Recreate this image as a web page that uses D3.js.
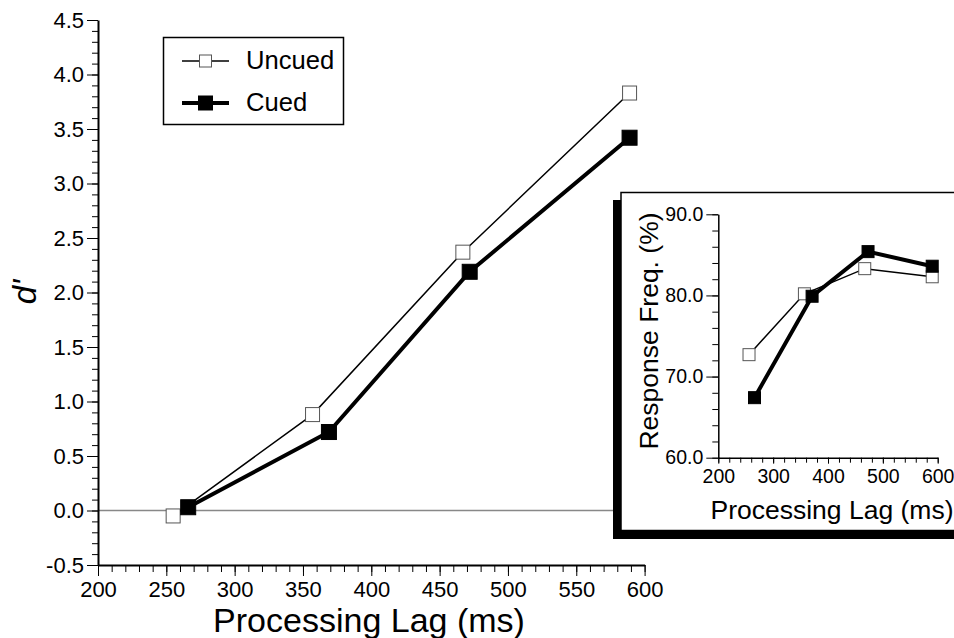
<!DOCTYPE html>
<html><head><meta charset="utf-8">
<script src="https://cdn.jsdelivr.net/npm/d3@7"></script>
<style>
html,body{margin:0;padding:0;background:#fff;}
svg{display:block;font-family:"Liberation Sans",Arial,Helvetica,sans-serif;}
</style></head>
<body>
<svg id="chart" width="954" height="638"></svg>
<script>
// ---- data ----
const seriesNames = ["Uncued", "Cued"];
const mainLagUncued = [255, 357, 467, 589];
const mainDUncued = [-0.05, 0.88, 2.37, 3.83];
const mainLagCued = [266, 369, 472, 589];
const mainDCued = [0.03, 0.72, 2.19, 3.42];
const insetLagUncued = [256, 357, 467, 590];
const insetFreqUncued = [72.7, 80.2, 83.3, 82.3];
const insetLagCued = [266, 371, 473, 590];
const insetFreqCued = [67.4, 79.9, 85.4, 83.6];
const mainXTicks = [200, 250, 300, 350, 400, 450, 500, 550, 600];
const mainYTicks = [-0.5, 0.0, 0.5, 1.0, 1.5, 2.0, 2.5, 3.0, 3.5, 4.0, 4.5];
const insetXTicks = [200, 300, 400, 500, 600];
const insetYTicks = [60, 70, 80, 90];
const xTitle = "Processing Lag (ms)";
const yTitle = "d'";
const insetYTitle = "Response Freq. (%)";

const svg = d3.select("#chart");
const font = '"Liberation Sans",Arial,Helvetica,sans-serif';

// ---- main scales ----
const x = d3.scaleLinear().domain([200, 600]).range([98, 644.6]);
const y = d3.scaleLinear().domain([-0.5, 4.5]).range([565, 20]);

function styleAxis(g, w) {
  g.selectAll("path.domain").attr("stroke", "#000").attr("stroke-width", w);
  g.selectAll(".tick line").attr("stroke", "#000").attr("stroke-width", 1);
}

// zero line
svg.append("line")
  .attr("x1", x(200)).attr("x2", 613)
  .attr("y1", y(0)).attr("y2", y(0))
  .attr("stroke", "#888").attr("stroke-width", 1.5);

// main minor ticks
const yMinor = d3.range(-5, 46).map(d => d / 10);
svg.append("g").attr("transform", `translate(${x(200)},0)`)
  .call(d3.axisLeft(y).tickValues(yMinor).tickSize(6).tickFormat(""))
  .call(g => g.select(".domain").remove())
  .call(g => g.selectAll(".tick line").attr("stroke", "#000").attr("stroke-width", 1));
const xMinor = d3.range(200, 601, 10);
svg.append("g").attr("transform", `translate(0,${y(-0.5)})`)
  .call(d3.axisBottom(x).tickValues(xMinor).tickSize(7).tickFormat(""))
  .call(g => g.select(".domain").remove())
  .call(g => g.selectAll(".tick line").attr("stroke", "#000").attr("stroke-width", 1));

// main major axes
const gy = svg.append("g").attr("transform", `translate(${x(200)},0)`)
  .call(d3.axisLeft(y).tickValues(mainYTicks).tickSize(11).tickSizeOuter(0).tickPadding(3).tickFormat(d3.format(".1f")));
styleAxis(gy, 2);
gy.selectAll(".tick text").attr("font-size", 22).attr("font-family", font).attr("fill", "#000");
gy.selectAll(".tick text").text(d => d3.format(".1f")(d).replace("−", "-"));

const gx = svg.append("g").attr("transform", `translate(0,${y(-0.5)})`)
  .call(d3.axisBottom(x).tickValues(mainXTicks).tickSize(11).tickSizeOuter(0).tickPadding(5).tickFormat(d3.format("d")));
styleAxis(gx, 2);
gx.selectAll(".tick text").attr("font-size", 22).attr("font-family", font).attr("fill", "#000");

// titles
svg.append("text").attr("x", 369).attr("y", 632).attr("text-anchor", "middle")
  .attr("font-size", 34).attr("fill", "#000").text(xTitle);
svg.append("text").attr("transform", "translate(36,292) rotate(-90)")
  .attr("text-anchor", "middle").attr("font-size", 33).attr("font-style", "italic")
  .attr("fill", "#000").text(yTitle);

// main series
function drawSeries(g, xs, ys, lx, ly, filled, lw, ms) {
  const pts = lx.map((v, i) => [xs(v), ys(ly[i])]);
  g.append("path").attr("d", d3.line()(pts)).attr("fill", "none")
    .attr("stroke", "#000").attr("stroke-width", lw).attr("stroke-linejoin", "miter");
  g.selectAll(null).data(pts).enter().append("rect")
    .attr("x", d => d[0] - ms / 2).attr("y", d => d[1] - ms / 2)
    .attr("width", ms).attr("height", ms)
    .attr("fill", filled ? "#000" : "#fff")
    .attr("stroke", filled ? "#000" : "#555").attr("stroke-width", 1);
}
const gm = svg.append("g");
drawSeries(gm, x, y, mainLagUncued, mainDUncued, false, 1.5, 14);
drawSeries(gm, x, y, mainLagCued, mainDCued, true, 4, 15);

// legend
const lg = svg.append("g");
lg.append("rect").attr("x", 163.5).attr("y", 37.5).attr("width", 180).attr("height", 87)
  .attr("fill", "#fff").attr("stroke", "#000").attr("stroke-width", 1.5);
const legendRows = [
  { name: seriesNames[0], filled: false, lw: 1.5, ms: 12, cy: 61, ty: 69 },
  { name: seriesNames[1], filled: true, lw: 4, ms: 14, cy: 103, ty: 111 }
];
legendRows.forEach(r => {
  lg.append("line").attr("x1", 182).attr("x2", 229).attr("y1", r.cy).attr("y2", r.cy)
    .attr("stroke", "#000").attr("stroke-width", r.lw);
  lg.append("rect").attr("x", 205.5 - r.ms / 2).attr("y", r.cy - r.ms / 2)
    .attr("width", r.ms).attr("height", r.ms)
    .attr("fill", r.filled ? "#000" : "#fff").attr("stroke", r.filled ? "#000" : "#555").attr("stroke-width", 1);
  lg.append("text").attr("x", 246).attr("y", r.ty).attr("font-size", 25.6)
    .attr("fill", "#000").text(r.name);
});

// ---- inset ----
const ig = svg.append("g");
ig.append("rect").attr("x", 613).attr("y", 200).attr("width", 400).attr("height", 339).attr("fill", "#000");
ig.append("rect").attr("x", 621).attr("y", 192.5).attr("width", 400).attr("height", 338)
  .attr("fill", "#fff").attr("stroke", "#000").attr("stroke-width", 1.5);

const xi = d3.scaleLinear().domain([200, 600]).range([718.3, 937.7]);
const yi = d3.scaleLinear().domain([60, 90]).range([457.7, 214.3]);

ig.append("g").attr("transform", `translate(${xi(200)},0)`)
  .call(d3.axisLeft(yi).tickValues(d3.range(60, 91, 2)).tickSize(6).tickFormat(""))
  .call(g => g.select(".domain").remove())
  .call(g => g.selectAll(".tick line").attr("stroke", "#000").attr("stroke-width", 1));
ig.append("g").attr("transform", `translate(0,${yi(60)})`)
  .call(d3.axisBottom(xi).tickValues(d3.range(200, 601, 20)).tickSize(5).tickFormat(""))
  .call(g => g.select(".domain").remove())
  .call(g => g.selectAll(".tick line").attr("stroke", "#000").attr("stroke-width", 1));

const giy = ig.append("g").attr("transform", `translate(${xi(200)},0)`)
  .call(d3.axisLeft(yi).tickValues(insetYTicks).tickSize(12).tickSizeOuter(0).tickPadding(3).tickFormat(d3.format(".1f")));
styleAxis(giy, 1.5);
giy.selectAll(".tick text").attr("font-size", 19.5).attr("font-family", font).attr("fill", "#000");
const gix = ig.append("g").attr("transform", `translate(0,${yi(60)})`)
  .call(d3.axisBottom(xi).tickValues(insetXTicks).tickSize(6).tickSizeOuter(0).tickPadding(5).tickFormat(d3.format("d")));
styleAxis(gix, 1.5);
gix.selectAll(".tick text").attr("font-size", 19.5).attr("font-family", font).attr("fill", "#000");

ig.append("text").attr("x", 832).attr("y", 519).attr("text-anchor", "middle")
  .attr("font-size", 26.5).attr("fill", "#000").text(xTitle);
ig.append("text").attr("transform", "translate(658,331) rotate(-90)")
  .attr("text-anchor", "middle").attr("font-size", 26.5).attr("fill", "#000").text(insetYTitle);

drawSeries(ig, xi, yi, insetLagUncued, insetFreqUncued, false, 1.5, 12);
drawSeries(ig, xi, yi, insetLagCued, insetFreqCued, true, 4, 12);
</script>
</body></html>
